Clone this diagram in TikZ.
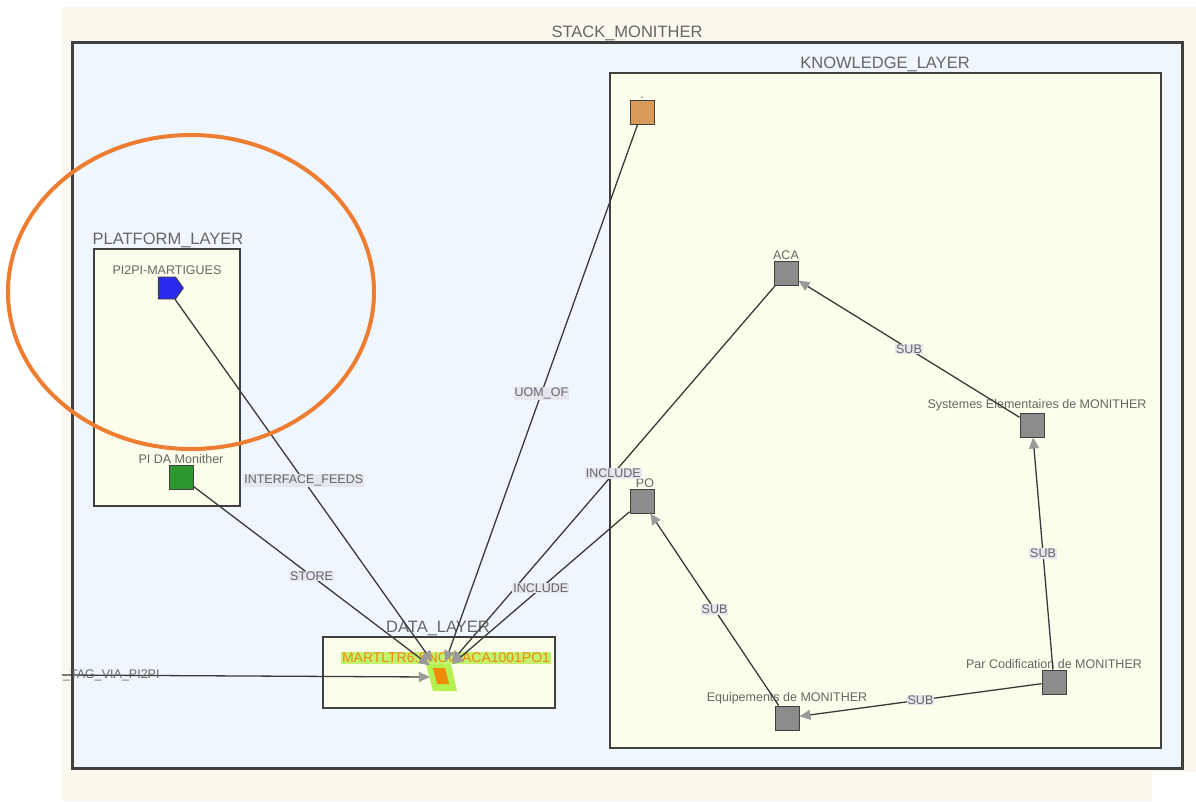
\documentclass[tikz,border=0pt]{standalone}
\usepackage{fontspec}
\setmainfont{Liberation Sans}
\usetikzlibrary{arrows.meta,shapes.symbols}
\definecolor{bgbeige}{HTML}{FCF8EE}
\definecolor{stackblue}{HTML}{EFF6FD}
\definecolor{layeryellow}{HTML}{FDFDEB}
\definecolor{boxline}{HTML}{404040}
\definecolor{edgeline}{HTML}{3A3A3A}
\definecolor{tipgrey}{HTML}{9A9A9A}
\definecolor{txtgrey}{HTML}{666666}
\definecolor{lblbg}{HTML}{E6E6EF}
\definecolor{nodegrey}{HTML}{8C8C8C}
\definecolor{nodegreen}{HTML}{2E962E}
\definecolor{nodeblue}{HTML}{2B2BF0}
\definecolor{nodeorange}{HTML}{D99A5B}
\definecolor{hiorange}{HTML}{F08A0A}
\definecolor{lime}{HTML}{B4F050}
\definecolor{circleorange}{HTML}{ED7D31}
\tikzset{
  layerbox/.style={draw=boxline, line width=2.6pt, fill=layeryellow},
  layertitle/.style={text=txtgrey, font=\fontsize{16.5}{16.5}\selectfont, inner sep=0pt},
  nodelab/.style={text=txtgrey, font=\fontsize{12.5}{12.5}\selectfont, inner sep=1pt},
  sq/.style={draw=boxline, line width=1pt, minimum size=24pt, inner sep=0pt},
  greysq/.style={sq, fill=nodegrey},
  edge/.style={draw=edgeline, line width=1.3pt},
  arr/.style={edge, -{Triangle[length=11pt,width=10pt,color=tipgrey]}},
  elab/.style={fill=lblbg, text=txtgrey, font=\fontsize{12.5}{12.5}\selectfont, inner sep=1pt}
}
\begin{document}
\begin{tikzpicture}[x=1pt,y=-1pt]
\useasboundingbox (0,0) rectangle (1196,801);
\fill[white] (0,0) rectangle (1196,801);
\fill[bgbeige] (62,7) rectangle (1196,801);
\fill[white] (1152,772) rectangle (1196,801);
% stack
\draw[draw=boxline, line width=3pt, fill=stackblue] (72,42) rectangle (1182,768);
\node[layertitle] at (627,33) {STACK\_MONITHER};
% knowledge
\draw[layerbox] (610,73) rectangle (1161,748);
\node[layertitle] at (885,64) {KNOWLEDGE\_LAYER};
% platform
\draw[layerbox] (94,249) rectangle (240,506);
\node[layertitle] at (168,240) {PLATFORM\_LAYER};
% data
\draw[layerbox] (323,637) rectangle (555,708);
\node[layertitle] at (438,628) {DATA\_LAYER};

% nodes
\node[shape=signal, signal to=east, signal pointer angle=110, draw=boxline, line width=0.8pt, fill=nodeblue, minimum width=25pt, minimum height=22pt, inner sep=0pt,
  label={[nodelab, yshift=1pt]above:PI2PI-MARTIGUES}] (pi2pi) at (167,288) {};
\node[sq, fill=nodegreen, label={[nodelab]above:PI DA Monither}] (pida) at (181,477) {};
\node[sq, fill=nodeorange, label={[nodelab]above:.}] (uom) at (642,112) {};
\node[greysq, label={[nodelab]above:ACA}] (aca) at (786,273) {};
\node[greysq, label={[nodelab, xshift=5pt]above:Systemes Elementaires de MONITHER}] (sys) at (1032,425) {};
\node[greysq, label={[nodelab, xshift=3pt]above:PO}] (po) at (642,501) {};
\node[greysq, label={[nodelab]above:Par Codification de MONITHER}] (par) at (1054,682) {};
\node[greysq, label={[nodelab]above:Equipements de MONITHER}] (equ) at (787,718) {};

% data node
\fill[lime] (426,664) -- (451,664) -- (457,691) -- (433,691) -- cycle;
\fill[hiorange] (433,668) -- (445,668) -- (449,684) -- (437,684) -- cycle;
\node[minimum width=22pt, minimum height=24pt, inner sep=0pt] (dn) at (441,674) {};
\node[fill=lime, fill opacity=0.8, text opacity=1, text=hiorange, font=\fontsize{14}{14}\selectfont, inner sep=1pt] (dntxt) at (446,658) {MARTLTR6:SNCC:ACA1001PO1};

% connectors
\draw[arr] (pi2pi) -- node[elab, pos=0.5] {INTERFACE\_FEEDS} (dn);
\draw[arr] (pida) -- node[elab, pos=0.5] {STORE} (dn);
\draw[arr] (uom) -- node[elab, pos=0.5] {UOM\_OF} (dn);
\draw[arr] (aca) -- node[elab, pos=0.5] {INCLUDE} (dn);
\draw[arr] (po) -- node[elab, pos=0.5] {INCLUDE} (dn);
\coordinate (ext) at (62,675);
\draw[arr] (ext) -- (dn.west |- 0,677);
\node[elab, anchor=west, fill=none] (extlab) at (62,675) {\_TAG\_VIA\_PI2PI};

\draw[arr] (sys) -- node[elab, pos=0.5] {SUB} (aca);
\draw[arr] (par) -- node[elab, pos=0.5] {SUB} (sys);
\draw[arr] (par) -- node[elab, pos=0.5] {SUB} (equ);
\draw[arr] (equ) -- node[elab, pos=0.5] {SUB} (po);

% highlight ellipse
\draw[circleorange, line width=4pt] (191,292) ellipse [x radius=183, y radius=157];
\end{tikzpicture}
\end{document}
